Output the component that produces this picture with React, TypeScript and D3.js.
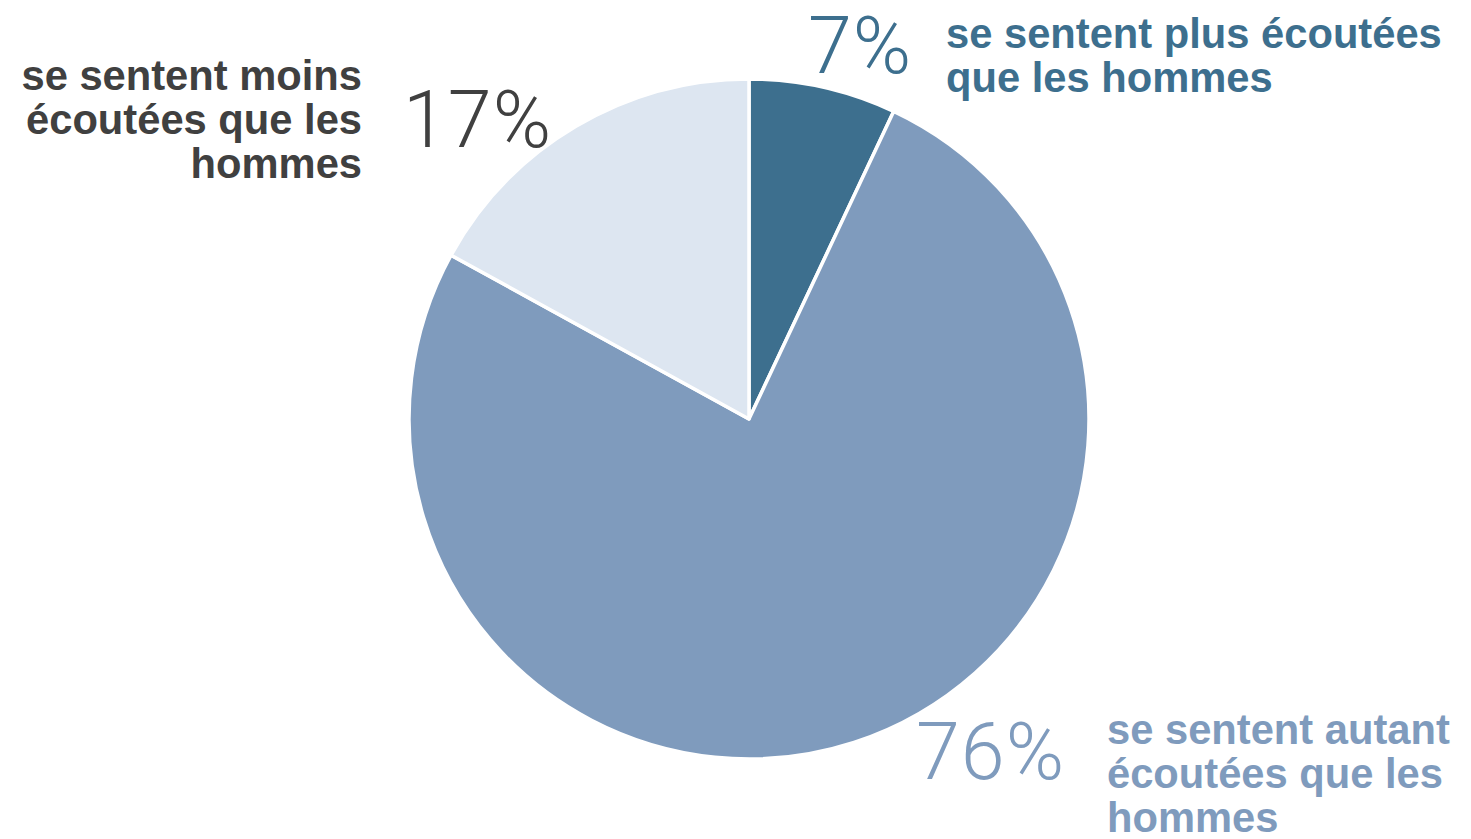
import React from 'react';
import * as d3 from 'd3';

const categories = ['plus', 'autant', 'moins'];
const values = [7, 76, 17];
const labelLines = [
  ['se sentent plus écoutées', 'que les hommes'],
  ['se sentent autant', 'écoutées que les', 'hommes'],
  ['se sentent moins', 'écoutées que les', 'hommes'],
];
const colors = ['#3d6f8e', '#7f9bbd', '#dde6f1'];
const textColors = ['#3d6f8e', '#7f9bbd', '#404040'];

const W = 1471;
const H = 839;
const cx = 749;
const cy = 419;
const radius = 340;

// label layout: pct position + text block position
const layout = [
  { px: 808, py: 73, tx: 946, ty: 48, anchor: 'start' },
  { px: 916, py: 779, tx: 1107, ty: 744, anchor: 'start' },
  { px: 403, py: 147, tx: 362, ty: 90, anchor: 'end' },
];

export default function App() {
  const pie = d3.pie<number>().sort(null).value((d) => d);
  const arcs = pie(values);
  const arc = d3.arc<d3.PieArcDatum<number>>().innerRadius(0).outerRadius(radius);
  const labelFont = '"Liberation Sans", Arial, sans-serif';
  const pctFont = 'Roboto, "Noto Sans", sans-serif';

  return (
    <div style={{ position: 'absolute', left: 0, top: 0 }}>
      <svg width={W} height={H} style={{ display: 'block', background: '#fff' }}>
        <g transform={`translate(${cx},${cy})`}>
          {arcs.map((a, i) => (
            <path
              key={categories[i]}
              d={arc(a) as string}
              fill={colors[i]}
              stroke="#fff"
              strokeWidth={3.5}
              strokeLinejoin="round"
            />
          ))}
        </g>
        {values.map((v, i) => (
          <g key={categories[i]}>
            <text
              x={layout[i].px}
              y={layout[i].py}
              fill={textColors[i]}
              fontFamily={pctFont}
              fontWeight={300}
              fontSize={79}
              letterSpacing={1}
            >
              {`${v}%`}
            </text>
            {labelLines[i].map((line, j) => (
              <text
                key={j}
                x={layout[i].tx}
                y={layout[i].ty + j * 44}
                fill={textColors[i]}
                fontFamily={labelFont}
                fontWeight={700}
                fontSize={41.7}
                textAnchor={layout[i].anchor}
              >
                {line}
              </text>
            ))}
          </g>
        ))}
      </svg>
    </div>
  );
}
